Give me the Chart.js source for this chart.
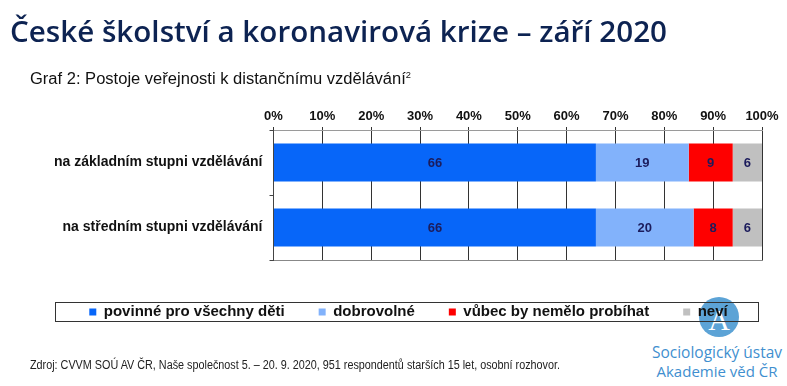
<!DOCTYPE html>
<html>
<head>
<meta charset="utf-8">
<script src="https://cdn.jsdelivr.net/npm/chart.js@4.4.0/dist/chart.umd.min.js"></script>
<style>
	body { margin: 0; background: #fff; }
	#stage { position: relative; width: 787px; height: 386px; overflow: hidden; }
	#graf { position: absolute; left: 0; top: 0; }
	.txt { position: absolute; white-space: nowrap; transform-origin: 0 0; }
	#nadpis { left: 10px; top: 11px; font: 600 29px "Open Sans"; color: #0d2352; }
	#podnadpis { left: 30px; top: 70px; font: 16px "Liberation Sans"; color: #111; }
	#podnadpis sup { font-size: 9px; }
	#zdroj { left: 30px; top: 358px; font: 12px "Liberation Sans"; color: #222; }
	#logo { position: absolute; left: 699px; top: 297px; width: 40px; height: 40px; border-radius: 50%; background: #5ca3d6; }
	#logoA { position: absolute; left: 0; top: 6px; width: 40px; text-align: center; font: 30px "Liberation Serif"; color: #fff; }
	.ustav { position: absolute; width: 160px; left: 637px; text-align: center; color: #3f8fcf; font-family: "Open Sans"; }
</style>
</head>
<body>
<div id="stage">
	<div id="logo"><div id="logoA">A</div></div>
	<div class="ustav" style="top: 341px; font-size: 15.5px;">Sociologický ústav</div>
	<div class="ustav" style="top: 361px; font-size: 15px;">Akademie věd ČR</div>
	<canvas id="graf" width="787" height="386"></canvas>
	<div class="txt" id="nadpis" data-w="657">České školství a koronavirová krize – září 2020</div>
	<div class="txt" id="podnadpis" data-w="381">Graf 2: Postoje veřejnosti k distančnímu vzdělávání<sup>2</sup></div>
	<div class="txt" id="zdroj" data-w="530">Zdroj: CVVM SOÚ AV ČR, Naše společnost 5. – 20. 9. 2020, 951 respondentů starších 15 let, osobní rozhovor.</div>
</div>
<script>
// data z grafu (v %)
const kategorie = ["na základním stupni vzdělávání", "na středním stupni vzdělávání"];
const povinne = [66, 66];
const dobrovolne = [19, 20];
const vubecNe = [9, 8];
const nevi = [6, 6];
const nazvyRad = ["povinné pro všechny děti", "dobrovolné", "vůbec by nemělo probíhat", "neví"];
const osaX = [0, 10, 20, 30, 40, 50, 60, 70, 80, 90, 100];

// zúžení textů na šířku z předlohy
document.querySelectorAll(".txt[data-w]").forEach((el) => {
	const w = el.getBoundingClientRect().width;
	el.style.transform = "scaleX(" + el.dataset.w / w + ")";
});

// popisky hodnot uprostřed pruhů
const hodnotyPlugin = {
	id: "hodnoty",
	afterDatasetsDraw(chart) {
		const ctx = chart.ctx;
		ctx.save();
		ctx.font = "bold 13px 'Liberation Sans'";
		ctx.fillStyle = "#1c1c5c";
		ctx.textAlign = "center";
		ctx.textBaseline = "middle";
		chart.data.datasets.forEach((ds, i) => {
			chart.getDatasetMeta(i).data.forEach((bar, j) => {
				ctx.fillText(ds.data[j], (bar.x + bar.base) / 2, bar.y + 1);
			});
		});
		ctx.restore();
	},
};

// rámeček kolem legendy
const ramecekPlugin = {
	id: "ramecek",
	afterDraw(chart) {
		const ctx = chart.ctx;
		ctx.save();
		ctx.strokeStyle = "#333";
		ctx.lineWidth = 1;
		ctx.strokeRect(55.5, 302.5, 703, 19);
		ctx.restore();
	},
};

const data = {
	labels: kategorie,
	datasets: [
		{ label: nazvyRad[0], data: povinne, backgroundColor: "#0766f9" },
		{ label: nazvyRad[1], data: dobrovolne, backgroundColor: "#82b2fb" },
		{ label: nazvyRad[2], data: vubecNe, backgroundColor: "#fe0000" },
		{ label: nazvyRad[3], data: nevi, backgroundColor: "#c0c0c0" },
	],
};

const config = {
	type: "bar",
	data: data,
	options: {
		indexAxis: "y",
		responsive: false,
		animation: false,
		datasets: { bar: { categoryPercentage: 1, barPercentage: 0.585 } },
		layout: { padding: { top: 100, left: 55, right: 25, bottom: 56.5 } },
		scales: {
			x: {
				position: "top",
				stacked: true,
				min: 0,
				max: 100,
				afterBuildTicks: (s) => { s.ticks = osaX.map((v) => ({ value: v })); },
				afterFit: (s) => { s.height = 30; },
				ticks: {
					callback: (v) => v + "%",
					font: { family: "Liberation Sans", size: 13, weight: "bold" },
					color: "#111",
					padding: 3,
					maxRotation: 0,
				},
				grid: { color: "#333", tickLength: 3 },
				border: { color: "#9a9a9a" },
			},
			x2: {
				position: "bottom",
				min: 0,
				max: 100,
				afterFit: (s) => { s.height = 10.5; },
				ticks: { display: false },
				grid: { drawOnChartArea: false, drawTicks: false },
				border: { color: "#888" },
			},
			y: {
				stacked: true,
				afterFit: (s) => { s.width = 218.5; },
				ticks: {
					font: { family: "Liberation Sans", size: 14, weight: "bold" },
					color: "#111",
					padding: 7,
				},
				grid: { drawOnChartArea: false, tickLength: 4, color: "#444" },
				border: { color: "#444" },
			},
		},
		plugins: {
			legend: {
				position: "bottom",
				labels: {
					boxWidth: 7,
					boxHeight: 7,
					padding: 34,
					color: "#111",
					font: { family: "Liberation Sans", size: 15, weight: "bold" },
				},
			},
			tooltip: { enabled: false },
		},
	},
	plugins: [hodnotyPlugin, ramecekPlugin],
};

const graf = new Chart(document.getElementById("graf"), config);
</script>
</body>
</html>
